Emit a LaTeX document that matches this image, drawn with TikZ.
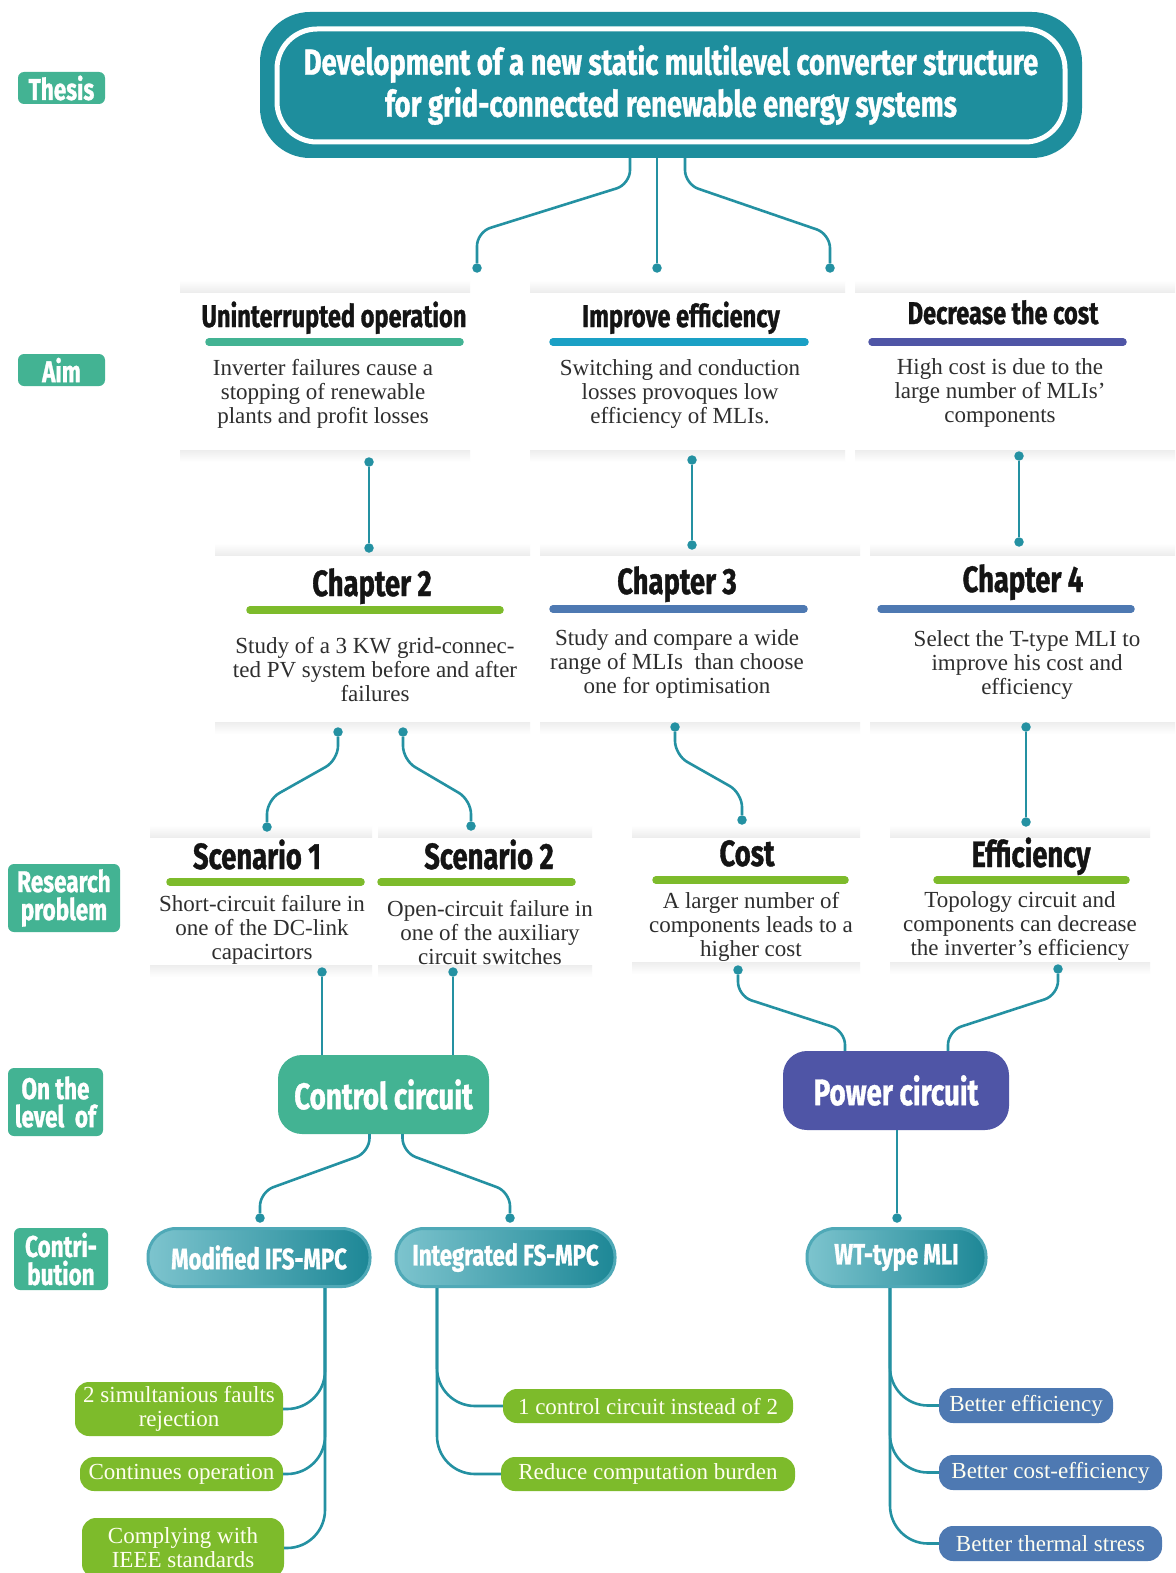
\documentclass[tikz,border=0pt]{standalone}
\usepackage{fontspec}
\setmainfont{Liberation Serif}
\newfontfamily\hfont{Fira Sans}[FakeStretch=0.75, BoldFeatures={FakeBold=1}]
\definecolor{mint}{HTML}{43B393}
\definecolor{tealc}{HTML}{1E8E9D}
\definecolor{connc}{HTML}{2491A2}
\definecolor{cyanc}{HTML}{1AA0C5}
\definecolor{purp}{HTML}{4F55A6}
\definecolor{lime}{HTML}{7DBB2B}
\definecolor{steel}{HTML}{4E79B2}
\definecolor{pillL}{HTML}{7DC4CE}
\definecolor{pillR}{HTML}{1D8796}
\definecolor{pillB}{HTML}{4FA9B7}
\newcommand\cardsh[4]{%
  \shade[top color=white, bottom color=black!7] (#1,#3-12) rectangle (#2,#3);
  \shade[top color=black!7, bottom color=white] (#1,#4) rectangle (#2,#4+12);}
\begin{document}
\begin{tikzpicture}[x=1pt,y=-1pt,
  head/.style={font=\hfont\bfseries\fontsize{31.5}{33}\selectfont, text=black!92, inner sep=0, anchor=base},
  headb/.style={head, font=\hfont\bfseries\fontsize{36.5}{38}\selectfont},
  body/.style={font=\fontsize{23}{24}\selectfont, align=center, text=black!82, inner sep=0},
  ul/.style={line width=7.5pt, line cap=round},
  conn/.style={draw=connc, line width=2.6pt, rounded corners=14pt},
  dot/.style={circle, fill=connc, inner sep=0, minimum size=9.5pt},
  lab/.style={fill=mint, rounded corners=6pt, text=white, font=\hfont\bfseries\fontsize{30}{30}\selectfont, align=center, inner sep=0},
  big/.style={rounded corners=24pt, text=white, font=\hfont\bfseries\fontsize{37}{37}\selectfont, inner sep=0},
  pill/.style={rounded corners=28pt, left color=pillL, right color=pillR, draw=pillB, line width=3pt, text=white, font=\hfont\bfseries\fontsize{29.5}{30}\selectfont, minimum height=58pt, inner sep=0},
  item/.style={rounded corners=14pt, text=white!94!yellow, font=\fontsize{23}{24}\selectfont, align=center, inner sep=0}]
\useasboundingbox (0,0) rectangle (1175,1573);
\fill[white] (0,0) rectangle (1175,1573);

% card shadows
\cardsh{180}{470}{292}{450}
\cardsh{530}{845}{292}{450}
\cardsh{855}{1175}{292}{450}
\cardsh{215}{530}{555}{722}
\cardsh{540}{860}{555}{722}
\cardsh{870}{1175}{555}{722}
\cardsh{150}{372}{837}{965}
\cardsh{378}{592}{837}{965}
\cardsh{632}{860}{837}{962}
\cardsh{890}{1150}{837}{962}

% left labels
\node[lab, minimum width=87pt, minimum height=32pt] (lthesis) at (61.5,88) {Thesis};
\node[lab, minimum width=87pt, minimum height=32pt] (laim) at (61.5,370) {Aim};
\node[lab, minimum width=112pt, minimum height=68pt] (lres) at (64,898) {Research\\[-2pt]problem};
\node[lab, minimum width=95pt, minimum height=68pt] (llev) at (55.5,1102) {On the\\[-2pt]level\ \ of};
\node[lab, minimum width=94pt, minimum height=62pt] (lcon) at (61,1259) {Contri-\\[-2pt]bution};

% title
\node[fill=tealc, rounded corners=50pt, minimum width=822pt, minimum height=146pt, text=white,
  font=\hfont\bfseries\fontsize{36.5}{42}\selectfont, align=center, inner sep=0] (title) at (671,85)
  {Development of a new static multilevel converter structure\\for grid-connected renewable energy systems};
\draw[white, line width=5pt, rounded corners=40pt] (277,29) rectangle (1065,142);

% title connectors
\node[dot] (td1) at (477,268) {};
\node[dot] (td2) at (657,268) {};
\node[dot] (td3) at (830,268) {};
\draw[conn] ([xshift=-41pt]title.south) -- ++(0,26) -- (477,232) -- (td1);
\draw[conn] ([xshift=-14pt]title.south) -- (td2);
\draw[conn] ([xshift=14pt]title.south) -- ++(0,26) -- (830,234) -- (td3);

% aim row
\node[head] (h1) at (334,327) {Uninterrupted operation};
\node[head] (h2) at (681,327) {Improve efficiency};
\node[head] (h3) at (1003,324) {Decrease the cost};
\draw[ul, mint] (209,342) -- (460,342);
\draw[ul, cyanc] (553,342) -- (805,342);
\draw[ul, purp] (872,342) -- (1123,342);
\node[body] (a1) at (323,394) {Inverter failures cause a\\stopping of renewable\\plants and profit losses};
\node[body] (a2) at (680,394) {Switching and conduction\\losses provoques low\\efficiency of MLIs.};
\node[body] (a3) at (1000,393) {High cost is due to the\\large number of MLIs’\\components};

% aim -> chapter
\node[dot] (a1b) at (369,462) {};
\node[dot] (c2t) at (369,548) {};
\node[dot] (a2b) at (692,460) {};
\node[dot] (c3t) at (692,545) {};
\node[dot] (a3b) at (1019,456) {};
\node[dot] (c4t) at (1019,542) {};
\draw[conn] (a1b) -- (c2t);
\draw[conn] (a2b) -- (c3t);
\draw[conn] (a3b) -- (c4t);

% chapter row
\node[headb] (ch2) at (372,596) {Chapter 2};
\node[headb] (ch3) at (677,594) {Chapter 3};
\node[headb] (ch4) at (1023,592) {Chapter 4};
\draw[ul, lime] (250,610) -- (500,610);
\draw[ul, steel] (553,609) -- (804,609);
\draw[ul, steel] (881,609) -- (1131,609);
\node[body] (b2) at (375,670) {Study of a 3 KW grid-connec-\\ted PV system before and after\\failures};
\node[body] (b3) at (677,664) {Study and compare a wide\\range of MLIs\ \ than choose\\one for optimisation};
\node[body] (b4) at (1027,665) {Select the T-type MLI to\\improve his cost and\\efficiency};

% chapter -> scenarios
\node[dot] (c2l) at (338,732) {};
\node[dot] (c2r) at (403,732) {};
\node[dot] (c3b) at (675,727) {};
\node[dot] (c4b) at (1026,727) {};
\node[dot] (s1t) at (267,827) {};
\node[dot] (s2t) at (471,826) {};
\node[dot] (cot) at (742,820) {};
\node[dot] (eft) at (1026,822) {};
\draw[conn] (c2l) -- ++(0,28) -- (267,800) -- (s1t);
\draw[conn] (c2r) -- ++(0,28) -- (471,800) -- (s2t);
\draw[conn] (c3b) -- ++(0,28) -- (742,793) -- (cot);
\draw[conn] (c4b) -- (eft);

% research problem row
\node[headb] (sc1) at (257,869) {Scenario 1};
\node[headb] (sc2) at (489,869) {Scenario 2};
\node[headb] (sco) at (747,866) {Cost};
\node[headb] (sef) at (1031,867) {Efficiency};
\draw[ul, lime] (170,882) -- (361,882);
\draw[ul, lime] (381,882) -- (572,882);
\draw[ul, lime] (656,880) -- (845,880);
\draw[ul, lime] (937,880) -- (1126,880);
\node[body] (r1) at (262,930) {Short-circuit failure in\\one of the DC-link\\capacirtors};
\node[body] (r2) at (490,933) {Open-circuit failure in\\one of the auxiliary\\circuit switches};
\node[body] (r3) at (751,927) {A larger number of\\components leads to a\\higher cost};
\node[body] (r4) at (1020,926) {Topology circuit and\\components can decrease\\the inverter’s efficiency};

% level boxes
\node[big, fill=mint, minimum width=211pt, minimum height=79pt] (ctrl) at (383.5,1094.5) {Control circuit};
\node[big, fill=purp, minimum width=226pt, minimum height=79pt] (power) at (896,1090.5) {Power circuit};

\node[dot] (s1b) at (322,972) {};
\node[dot] (s2b) at (453,972) {};
\node[dot] (cob) at (738,970) {};
\node[dot] (efb) at (1058,969) {};
\draw[conn] (s1b) -- (s1b |- ctrl.north);
\draw[conn] (s2b) -- (s2b |- ctrl.north);
\draw[conn] (cob) -- ++(0,26) -- ([xshift=-51pt,yshift=20pt]power.north) -- ([xshift=-51pt]power.north);
\draw[conn] (efb) -- ++(0,26) -- ([xshift=52pt,yshift=20pt]power.north) -- ([xshift=52pt]power.north);

% contributions
\node[pill, minimum width=222pt] (p1) at (259,1257.5) {Modified IFS-MPC};
\node[pill, minimum width=219pt] (p2) at (505.5,1257.5) {Integrated FS-MPC};
\node[pill, minimum width=179pt] (p3) at (896.5,1257.5) {WT-type MLI};
\node[dot] (p1t) at (260,1218) {};
\node[dot] (p2t) at (510,1218) {};
\node[dot] (p3t) at (897,1218) {};
\draw[conn] ([xshift=-14pt]ctrl.south) -- ++(0,18) -- (260,1192) -- (p1t);
\draw[conn] ([xshift=19pt]ctrl.south) -- ++(0,18) -- (510,1192) -- (p2t);
\draw[conn] (power.south -| p3t) -- (p3t);

% items
\node[item, fill=lime, minimum width=208pt, minimum height=54pt] (i1) at (179,1409) {2 simultanious faults\\rejection};
\node[item, fill=lime, minimum width=203pt, minimum height=34pt] (i2) at (181.5,1474) {Continues operation};
\node[item, fill=lime, minimum width=202pt, minimum height=60pt] (i3) at (183,1548) {Complying with\\IEEE standards};
\node[item, fill=lime, minimum width=290pt, minimum height=34pt] (i4) at (648,1406) {1 control circuit instead of 2};
\node[item, fill=lime, minimum width=294pt, minimum height=34pt] (i5) at (648,1474) {Reduce computation burden};
\node[item, fill=steel, minimum width=174pt, minimum height=35pt] (j1) at (1026,1405.5) {Better efficiency};
\node[item, fill=steel, minimum width=223pt, minimum height=35pt] (j2) at (1050.5,1472.5) {Better cost-efficiency};
\node[item, fill=steel, minimum width=223pt, minimum height=35pt] (j3) at (1050.5,1543.5) {Better thermal stress};

\coordinate (t1) at ([xshift=66pt]p1.south);
\coordinate (t2) at ([xshift=-68.5pt]p2.south);
\coordinate (t3) at ([xshift=-6.5pt]p3.south);
\draw[conn, rounded corners=38pt] (t1) |- (i1.east);
\draw[conn, rounded corners=38pt] (t1) |- (i2.east);
\draw[conn, rounded corners=38pt] (t1) |- (i3.east);
\draw[conn, rounded corners=38pt] (t2) |- (i4.west);
\draw[conn, rounded corners=38pt] (t2) |- (i5.west);
\draw[conn, rounded corners=38pt] (t3) |- (j1.west);
\draw[conn, rounded corners=38pt] (t3) |- (j2.west);
\draw[conn, rounded corners=38pt] (t3) |- (j3.west);
\end{tikzpicture}
\end{document}
